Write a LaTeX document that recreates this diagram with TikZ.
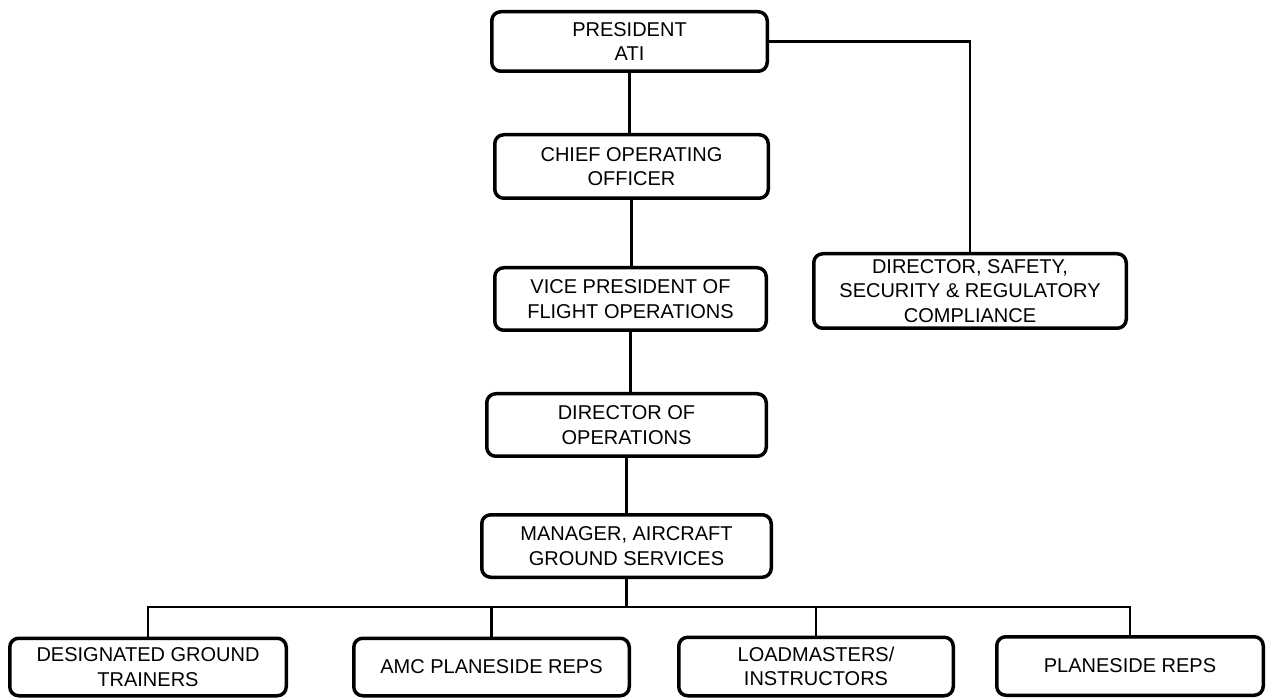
\documentclass[tikz,border=0pt]{standalone}
\usepackage{fontspec}
\setmainfont{Liberation Sans}
\tikzset{
  box/.style={draw=black, line width=3.5pt, rounded corners=9pt, fill=white,
    align=center, inner sep=0pt, font=\fontsize{20}{24.5}\selectfont},
  link/.style={draw=black, line width=2.5pt}
}
\begin{document}
\begin{tikzpicture}[x=1pt,y=1pt]
\useasboundingbox (0,0) rectangle (1267,-700);
\fill[white] (0,0) rectangle (1267,-700);
% boxes (minimum sizes = outer size - line width)
\node[box, minimum width=275.5pt, minimum height=59.5pt] (pres) at (629.5,-41.5) {PRESIDENT\\ATI};
\node[box, minimum width=273.5pt, minimum height=63.5pt] (coo) at (631.5,-166.5) {CHIEF OPERATING\\OFFICER};
\node[box, minimum width=271.5pt, minimum height=62.5pt] (vp) at (630.5,-299) {VICE PRESIDENT OF\\FLIGHT OPERATIONS};
\node[box, minimum width=312.5pt, minimum height=74.5pt] (dso) at (970,-291) {DIRECTOR, SAFETY,\\SECURITY \& REGULATORY\\COMPLIANCE};
\node[box, minimum width=279.5pt, minimum height=62.5pt] (dop) at (626.5,-425) {DIRECTOR OF\\OPERATIONS};
\node[box, minimum width=289.5pt, minimum height=62.5pt] (mgr) at (626.5,-546) {MANAGER, AIRCRAFT\\GROUND SERVICES};
\node[box, minimum width=276.5pt, minimum height=57.5pt] (dgt) at (148,-667) {DESIGNATED GROUND\\TRAINERS};
\node[box, minimum width=275.5pt, minimum height=57.5pt] (amc) at (491.5,-667) {AMC PLANESIDE REPS};
\node[box, minimum width=274.5pt, minimum height=58.5pt] (ld) at (816,-666.5) {LOADMASTERS/\\INSTRUCTORS};
\node[box, minimum width=266.5pt, minimum height=58.5pt] (ps) at (1130,-666) {PLANESIDE REPS};
\coordinate (bus) at (627,-607);
% connectors
\begin{scope}[on background layer/.style={}]
\draw[link] (pres.south) -- (pres.south |- coo.north);
\draw[link] (coo.south) -- (coo.south |- vp.north);
\draw[link] (vp.south) -- (vp.south |- dop.north);
\draw[link] (dop.south) -- (dop.south |- mgr.north);
\draw[link] (pres.east) -| (dso.north);
\draw[link] (mgr.south) -- (mgr.south |- bus) -| (dgt.north);
\draw[link] (mgr.south |- bus) -| (amc.north);
\draw[link] (mgr.south |- bus) -| (ld.north);
\draw[link] (mgr.south |- bus) -| (ps.north);
\end{scope}
\end{tikzpicture}
\end{document}
